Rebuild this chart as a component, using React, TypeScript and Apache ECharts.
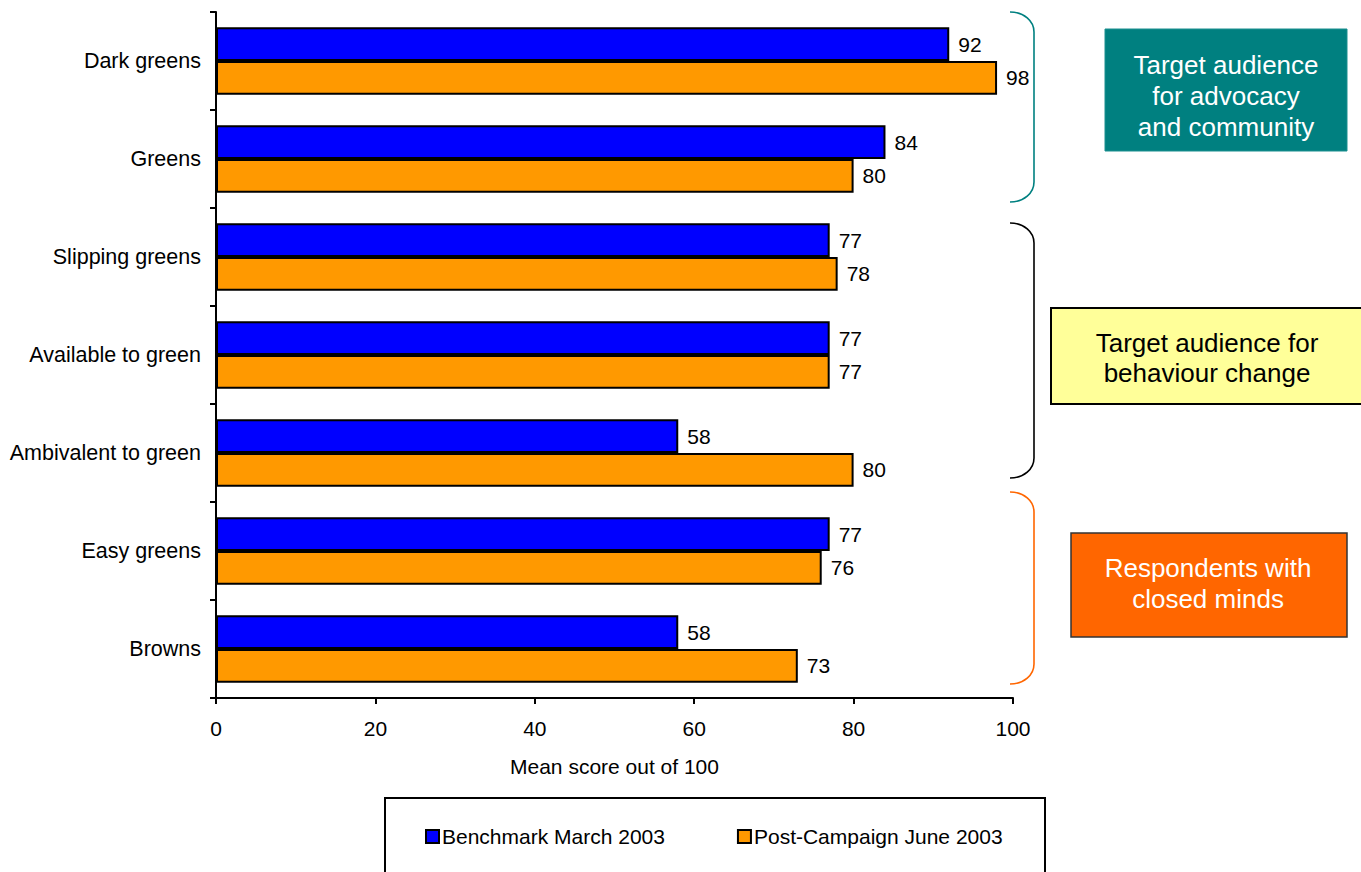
import React, { useEffect, useRef } from "react";
import * as echarts from "echarts";

const categories = [
  "Dark greens",
  "Greens",
  "Slipping greens",
  "Available to green",
  "Ambivalent to green",
  "Easy greens",
  "Browns",
];
const benchmark = [92, 84, 77, 77, 58, 77, 58];
const postCampaign = [98, 80, 78, 77, 80, 76, 73];
const seriesNames = ["Benchmark March 2003", "Post-Campaign June 2003"];
const xTicks = { min: 0, max: 100, interval: 20 };
const axisName = "Mean score out of 100";
const boxTexts = [
  "Target audience\nfor advocacy\nand community",
  "Target audience for\nbehaviour change",
  "Respondents with\nclosed minds",
];

const FONT = "'Liberation Sans', Arial, sans-serif";

const bracketD = (top: number, bottom: number) =>
  `M1010 ${top} C1024 ${top} 1034 ${top + 9} 1034 ${top + 20} L1034 ${bottom - 20} C1034 ${bottom - 9} 1024 ${bottom} 1010 ${bottom}`;

let registered = false;
function registerShapes() {
  if (registered) return;
  registered = true;
  echarts.graphic.registerShape("bracketTeal", echarts.graphic.extendPath(bracketD(12, 202), {}) as any);
  echarts.graphic.registerShape("bracketBlack", echarts.graphic.extendPath(bracketD(223, 478), {}) as any);
  echarts.graphic.registerShape("bracketOrange", echarts.graphic.extendPath(bracketD(492, 684), {}) as any);
}

export default function App() {
  const ref = useRef<HTMLDivElement>(null);
  useEffect(() => {
    if (!ref.current) return;
    registerShapes();
    const chart = echarts.init(ref.current, null, { renderer: "svg" });
    const labelStyle = {
      show: true,
      position: "right" as const,
      distance: 9,
      color: "#000",
      fontSize: 21,
      fontFamily: FONT,
    };
    chart.setOption({
      animation: false,
      backgroundColor: "#fff",
      textStyle: { fontFamily: FONT },
      grid: { left: 216, top: 12, width: 797, height: 686, containLabel: false },
      xAxis: {
        type: "value",
        min: xTicks.min,
        max: xTicks.max,
        interval: xTicks.interval,
        name: axisName,
        nameLocation: "middle",
        nameGap: 58,
        nameTextStyle: { color: "#000", fontSize: 21, fontFamily: FONT },
        axisLine: { show: true, lineStyle: { color: "#000", width: 2 } },
        axisTick: { show: true, length: 6, lineStyle: { color: "#000", width: 2 } },
        axisLabel: { color: "#000", fontSize: 21, fontFamily: FONT, margin: 20 },
        splitLine: { show: false },
      },
      yAxis: {
        type: "category",
        data: categories,
        inverse: true,
        axisLine: { show: true, lineStyle: { color: "#000", width: 2 } },
        axisTick: { show: true, length: 6, lineStyle: { color: "#000", width: 2 } },
        axisLabel: { color: "#000", fontSize: 21.5, fontFamily: FONT, margin: 15 },
      },
      legend: {
        left: 420,
        top: 821,
        itemWidth: 13,
        itemHeight: 13,
        itemGap: 72,
        icon: "rect",
        textStyle: { color: "#000", fontSize: 21, fontFamily: FONT, padding: [0, 0, 0, -2] },
        data: seriesNames,
      },
      series: [
        {
          name: seriesNames[0],
          type: "bar",
          data: benchmark,
          barGap: "0%",
          barCategoryGap: "31%",
          itemStyle: { color: "#0000FF", borderColor: "#000", borderWidth: 2 },
          label: labelStyle,
        },
        {
          name: seriesNames[1],
          type: "bar",
          data: postCampaign,
          barGap: "0%",
          barCategoryGap: "31%",
          itemStyle: { color: "#FF9900", borderColor: "#000", borderWidth: 2 },
          label: labelStyle,
        },
      ],
      graphic: [
        { type: "bracketTeal", x: 0, y: 0, style: { fill: "none", stroke: "#008080", lineWidth: 1.6 } },
        { type: "bracketBlack", x: 0, y: 0, style: { fill: "none", stroke: "#000", lineWidth: 1.6 } },
        { type: "bracketOrange", x: 0, y: 0, style: { fill: "none", stroke: "#FF6600", lineWidth: 1.6 } },
        {
          type: "rect",
          shape: { x: 1105, y: 29, width: 242, height: 122 },
          style: { fill: "#008080", stroke: "#1a8f8f", lineWidth: 1 },
        },
        {
          type: "text",
          x: 1226,
          y: 96,
          style: {
            text: boxTexts[0],
            fill: "#fff",
            fontSize: 26,
            fontFamily: FONT,
            lineHeight: 31,
            align: "center",
            verticalAlign: "middle",
          },
        },
        {
          type: "rect",
          shape: { x: 1051, y: 308, width: 330, height: 96 },
          style: { fill: "#FFFF99", stroke: "#000", lineWidth: 2 },
        },
        {
          type: "text",
          x: 1207,
          y: 358,
          style: {
            text: boxTexts[1],
            fill: "#000",
            fontSize: 26,
            fontFamily: FONT,
            lineHeight: 30,
            align: "center",
            verticalAlign: "middle",
          },
        },
        {
          type: "rect",
          shape: { x: 1071, y: 533, width: 276, height: 104 },
          style: { fill: "#FF6600", stroke: "#333", lineWidth: 1.5 },
        },
        {
          type: "text",
          x: 1208,
          y: 583,
          style: {
            text: boxTexts[2],
            fill: "#fff",
            fontSize: 26,
            fontFamily: FONT,
            lineHeight: 31,
            align: "center",
            verticalAlign: "middle",
          },
        },
        {
          type: "rect",
          z: -1,
          shape: { x: 385, y: 798, width: 660, height: 90 },
          style: { fill: "#fff", stroke: "#000", lineWidth: 2 },
        },
      ],
    });
    return () => chart.dispose();
  }, []);
  return (
    <div
      ref={ref}
      style={{ position: "absolute", left: 0, top: 0, width: 1361, height: 872, background: "#fff" }}
    />
  );
}
